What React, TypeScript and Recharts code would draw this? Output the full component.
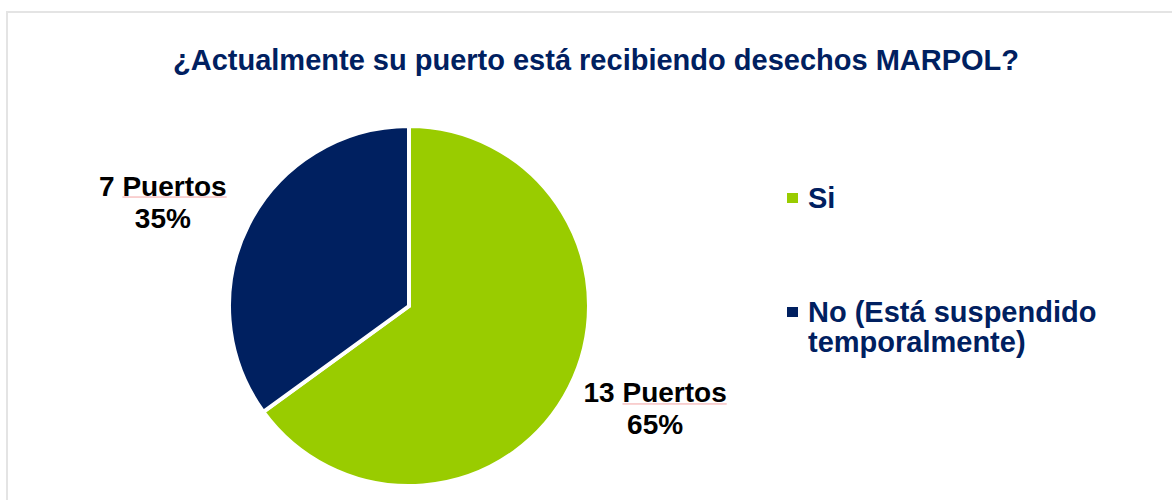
import React from "react";
import { PieChart, Pie, Cell, Legend } from "recharts";

const categories = ["Si", "No (Está suspendido temporalmente)"];
const legendLines = [["Si"], ["No (Está suspendido", "temporalmente)"]];
const values = [13, 7];
const percentLabels = ["65%", "35%"];
const countLabels = ["13 Puertos", "7 Puertos"];
const colors = ["#99CC00", "#002060"];
const title = "¿Actualmente su puerto está recibiendo desechos MARPOL?";

const data = categories.map((name, i) => ({ name, value: values[i] }));

const FONT = '"Liberation Sans", Arial, sans-serif';
const RAD = Math.PI / 180;

const widths: Record<string, number> = {
  "0": 0.556, "1": 0.556, "2": 0.556, "3": 0.556, "4": 0.556, "5": 0.556, "6": 0.556, "7": 0.556, "8": 0.556, "9": 0.556,
  " ": 0.278, P: 0.667, u: 0.611, e: 0.556, r: 0.389, t: 0.333, o: 0.611, s: 0.556,
};
const textWidth = (s: string, fs: number) =>
  s.split("").reduce((a, c) => a + (widths[c] ?? 0.6), 0) * fs;

const LABEL_FS = 28;

const renderLabel = (props: any) => {
  const { cx, cy, midAngle, index } = props;
  const ang = midAngle + 4.2 * (midAngle < 0 || midAngle > 90 ? 1 : -1);
  const dist = 267;
  const x = cx + dist * Math.cos(-ang * RAD);
  const y = cy + dist * Math.sin(-ang * RAD);
  const line1 = countLabels[index];
  const w = textWidth(line1, LABEL_FS);
  const numPart = line1.split(" ")[0] + " ";
  const ux1 = x - w / 2 + textWidth(numPart, LABEL_FS);
  const ux2 = x + w / 2;
  return (
    <g>
      <text x={x} y={y - 7} textAnchor="middle" fill="#000" fontFamily={FONT} fontWeight="bold" fontSize={LABEL_FS}>
        {line1}
      </text>
      <line x1={ux1} x2={ux2} y1={y - 5.5} y2={y - 5.5} stroke="#f2a3a3" strokeWidth={1} />
      <text x={x} y={y + 25} textAnchor="middle" fill="#000" fontFamily={FONT} fontWeight="bold" fontSize={LABEL_FS}>
        {percentLabels[index]}
      </text>
    </g>
  );
};

const renderLegend = () => (
  <div style={{ fontFamily: FONT, fontWeight: "bold", fontSize: 29, lineHeight: "30px", color: "#002060" }}>
    {legendLines.map((lines, i) => (
      <div key={i} style={{ position: "absolute", left: 0, top: i === 0 ? 0 : 114, width: 340 }}>
        <div style={{ position: "absolute", left: 0, top: 10, width: 11, height: 10, background: colors[i] }} />
        <div style={{ position: "absolute", left: 21, top: 0, whiteSpace: "nowrap" }}>
          {lines.map((l, j) => (
            <div key={j}>{l}</div>
          ))}
        </div>
      </div>
    ))}
  </div>
);

export default function App() {
  return (
    <div style={{ position: "absolute", left: 0, top: 0, width: 1172, height: 500, overflow: "hidden", background: "#fff" }}>
      <div
        style={{
          position: "absolute",
          left: 6,
          top: 11,
          width: 1200,
          height: 520,
          border: "2px solid #e4e4e4",
          boxSizing: "border-box",
        }}
      />
      <div
        style={{
          position: "absolute",
          left: 0,
          top: 43,
          width: 1192,
          textAlign: "center",
          fontFamily: FONT,
          fontWeight: "bold",
          fontSize: 29,
          lineHeight: "34px",
          color: "#002060",
          whiteSpace: "nowrap",
        }}
      >
        {title}
      </div>
      <div style={{ position: "absolute", left: 0, top: 0 }}>
        <PieChart width={1172} height={500} margin={{ top: 0, right: 0, bottom: 0, left: 0 }}>
          <Pie
            data={data}
            dataKey="value"
            nameKey="name"
            cx={409}
            cy={306}
            outerRadius={180}
            startAngle={90}
            endAngle={-270}
            stroke="#ffffff"
            strokeWidth={4}
            label={renderLabel}
            labelLine={false}
            isAnimationActive={false}
          >
            {data.map((d, i) => (
              <Cell key={d.name} fill={colors[i]} />
            ))}
          </Pie>
          <Legend
            content={renderLegend}
            layout="vertical"
            wrapperStyle={{ position: "absolute", left: 787, top: 183, width: 360, height: 200 }}
          />
        </PieChart>
      </div>
    </div>
  );
}
